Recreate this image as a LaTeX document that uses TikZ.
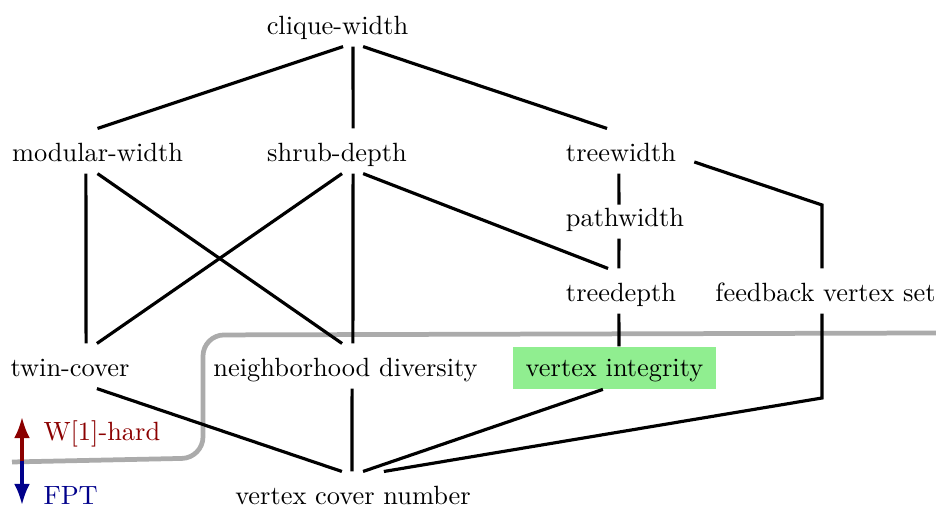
\documentclass[tikz,border=0pt]{standalone}
\usepackage{tikz}
\usepackage{xcolor}
\usetikzlibrary{arrows.meta}

\definecolor{hardred}{RGB}{139,0,0}
\definecolor{fptblue}{RGB}{0,0,139}
\definecolor{vigreen}{RGB}{144,238,144}

\tikzset{
	param/.style={anchor=base, text height=10.3pt, text depth=2pt, inner ysep=2.2pt},
	vibox/.style={param, fill=vigreen, text height=9.2pt, text depth=2.3pt, inner xsep=4.7pt},
	link/.style={very thick, black},
	border/.style={line width=1.8pt, black!33, rounded corners=8pt},
	legend/.style={anchor=base west, inner sep=0pt},
	tip/.style={-{Latex[length=8pt,width=6pt]}}
}

\begin{document}
\begin{tikzpicture}[x=0.379pt, y=-0.379pt]
			\useasboundingbox (0,0) rectangle (936,507);

			% parameters
			\node[param] (cw) at (337.5,35) {clique-width};
			\node[param] (mw) at (97.5,162) {modular-width};
			\node[param] (sd) at (337,162) {shrub-depth};
			\node[param] (tw) at (621,162) {treewidth};
			\node[param] (pw) at (625,227) {pathwidth};
			\node[param] (td) at (621,302) {treedepth};
			\node[param] (fvs) at (825.5,302) {feedback vertex set};
			\node[param] (tc) at (70,377) {twin-cover};
			\node[param] (nd) at (345.5,377) {neighborhood diversity};
			\node[vibox] (vi) at (614.5,377) {vertex integrity};
			\node[param] (vc) at (353,505) {vertex cover number};

			\coordinate (twbend) at (822,205);
			\coordinate (fvsbend) at (822,398);

			% W[1]-hard / FPT
			\draw[border] (12,462) -- (203,458) -- (203,335) -- (936,333);
			\coordinate (split) at (22,461);
			\coordinate (hardtip) at (22,417);
			\coordinate (fpttip) at (22,505);
			\draw[link, hardred, tip] (split) -- (hardtip);
			\draw[link, fptblue, tip] (split) -- (fpttip);
			\node[legend, text=hardred] (hard) at (43,441) {W[1]-hard};
			\node[legend, text=fptblue] (fpt) at (43,505) {FPT};

			% hierarchy
			\draw[link] ([xshift=2.1pt]cw.south) -- (mw.north);
			\draw[link] ([xshift=5.9pt]cw.south) -- ([xshift=6.1pt]sd.north);
			\draw[link] ([xshift=9.7pt]cw.south) -- ([xshift=-5.3pt]tw.north);
			\draw[link] ([xshift=-4.4pt]mw.south) -- ([xshift=6.1pt]tc.north);
			\draw[link] (mw.south) -- ([xshift=-1.3pt]nd.north);
			\draw[link] ([xshift=1.9pt]sd.south) -- ([xshift=10.2pt]tc.north);
			\draw[link] ([xshift=6.1pt]sd.south) -- ([xshift=2.8pt]nd.north);
			\draw[link] ([xshift=9.9pt]sd.south) -- ([xshift=-4.9pt]td.north);
			\draw[link] ([xshift=-0.8pt]tw.south) -- ([xshift=-2.3pt,yshift=-4.2pt]pw.north);
			\draw[link] ([xshift=-2.3pt]pw.south) -- ([xshift=-0.8pt]td.north);
			\draw[link] ([xshift=3.4pt]tw.base east) -- (twbend) -- ([xshift=-1.3pt]fvs.north);
			\draw[link] ([xshift=-0.8pt]td.south) -- ([xshift=1.7pt]vi.north);
			\draw[link] ([xshift=-1.3pt]fvs.south) -- (fvsbend) -- ([xshift=11.7pt]vc.north);
			\draw[link] ([xshift=10.2pt]tc.south) -- ([xshift=-4.2pt]vc.north);
			\draw[link] ([xshift=2.5pt]nd.south) -- ([xshift=-0.4pt]vc.north);
			\draw[link] ([xshift=-4.4pt]vi.south) -- ([xshift=3.8pt]vc.north);
		\end{tikzpicture}
\end{document}
